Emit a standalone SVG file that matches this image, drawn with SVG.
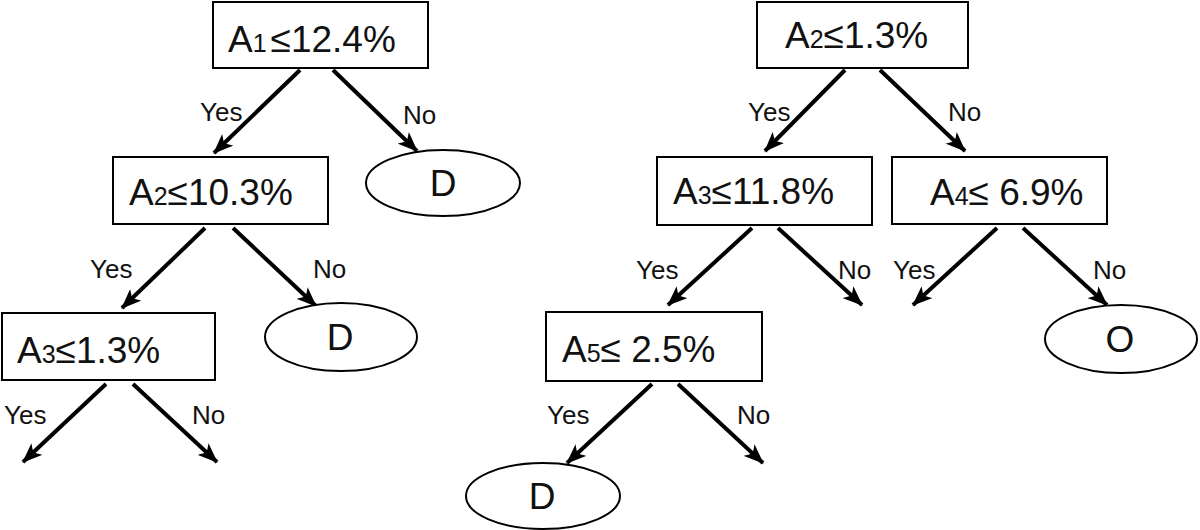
<svg xmlns="http://www.w3.org/2000/svg" width="1200" height="530" viewBox="0 0 1200 530">
<style>
.box{fill:#fff;stroke:#000;stroke-width:2}
.ell{fill:#fff;stroke:#000;stroke-width:2}
.t{font-family:"Liberation Sans",Arial,sans-serif;font-size:37px;fill:#111}
.s{font-size:25px}
.lbl{font-family:"Liberation Sans",Arial,sans-serif;font-size:26px;fill:#111}
.c{stroke:#000;stroke-width:4;fill:none;marker-end:url(#ah)}
</style>
<defs>
<marker id="ah" markerUnits="userSpaceOnUse" markerWidth="20" markerHeight="16" viewBox="0 0 20 16" refX="19" refY="8" orient="auto">
<path d="M0,0 L20,8 L0,16 L5,8 Z" fill="#000"/>
</marker>
</defs>
<rect width="1200" height="530" fill="#fff"/>
<g id="connectors">
<line class="c" x1="300" y1="70" x2="214" y2="153"/>
<line class="c" x1="333" y1="70" x2="417" y2="151"/>
<line class="c" x1="205" y1="228" x2="122" y2="308"/>
<line class="c" x1="233" y1="228" x2="316" y2="306"/>
<line class="c" x1="106" y1="384" x2="23" y2="462"/>
<line class="c" x1="133" y1="384" x2="217" y2="462"/>
<line class="c" x1="845" y1="70" x2="765" y2="151"/>
<line class="c" x1="880" y1="70" x2="965" y2="151"/>
<line class="c" x1="752" y1="228" x2="668" y2="305"/>
<line class="c" x1="778" y1="228" x2="862" y2="305"/>
<line class="c" x1="997" y1="228" x2="913" y2="305"/>
<line class="c" x1="1023" y1="228" x2="1107" y2="305"/>
<line class="c" x1="652" y1="384" x2="567" y2="463"/>
<line class="c" x1="678" y1="384" x2="763" y2="463"/>
</g>
<g id="labels">
<text class="lbl" x="200" y="121">Yes</text>
<text class="lbl" x="403" y="124">No</text>
<text class="lbl" x="90" y="278">Yes</text>
<text class="lbl" x="313" y="278">No</text>
<text class="lbl" x="4" y="424">Yes</text>
<text class="lbl" x="192" y="424">No</text>
<text class="lbl" x="748" y="121">Yes</text>
<text class="lbl" x="948" y="121">No</text>
<text class="lbl" x="636" y="279">Yes</text>
<text class="lbl" x="838" y="279">No</text>
<text class="lbl" x="893" y="279">Yes</text>
<text class="lbl" x="1093" y="279">No</text>
<text class="lbl" x="547" y="424">Yes</text>
<text class="lbl" x="737" y="424">No</text>
</g>
<g id="n1">
<rect class="box" x="213" y="2" width="215" height="66"/>
<text class="t" x="228" y="52">A<tspan class="s">1</tspan><tspan dx="4">≤12.4%</tspan></text>
</g>
<g id="n2">
<rect class="box" x="113" y="157" width="215" height="67"/>
<text class="t" x="129" y="205">A<tspan class="s">2</tspan>≤10.3%</text>
</g>
<g id="n3">
<rect class="box" x="2" y="313" width="213" height="67"/>
<text class="t" x="17" y="363">A<tspan class="s">3</tspan>≤1.3%</text>
</g>
<g id="d1">
<ellipse class="ell" cx="443" cy="183" rx="77" ry="33"/>
<text class="t" x="443" y="196" text-anchor="middle">D</text>
</g>
<g id="d2">
<ellipse class="ell" cx="341" cy="337" rx="76" ry="34"/>
<text class="t" x="340" y="350" text-anchor="middle">D</text>
</g>
<g id="r1">
<rect class="box" x="757" y="2" width="211" height="66"/>
<text class="t" x="785" y="48">A<tspan class="s">2</tspan>≤1.3%</text>
</g>
<g id="r2">
<rect class="box" x="657" y="157" width="215" height="68"/>
<text class="t" x="673" y="204">A<tspan class="s">3</tspan>≤11.8%</text>
</g>
<g id="r3">
<rect class="box" x="892" y="157" width="215" height="67"/>
<text class="t" x="930" y="205">A<tspan class="s">4</tspan>≤ 6.9%</text>
</g>
<g id="o1">
<ellipse class="ell" cx="1121" cy="339" rx="76" ry="34"/>
<text class="t" x="1120" y="352" text-anchor="middle">O</text>
</g>
<g id="r4">
<rect class="box" x="546" y="312" width="216" height="69"/>
<text class="t" x="562" y="362">A<tspan class="s">5</tspan>≤ 2.5%</text>
</g>
<g id="d3">
<ellipse class="ell" cx="543" cy="496" rx="77" ry="33"/>
<text class="t" x="542" y="509" text-anchor="middle">D</text>
</g>
</svg>
